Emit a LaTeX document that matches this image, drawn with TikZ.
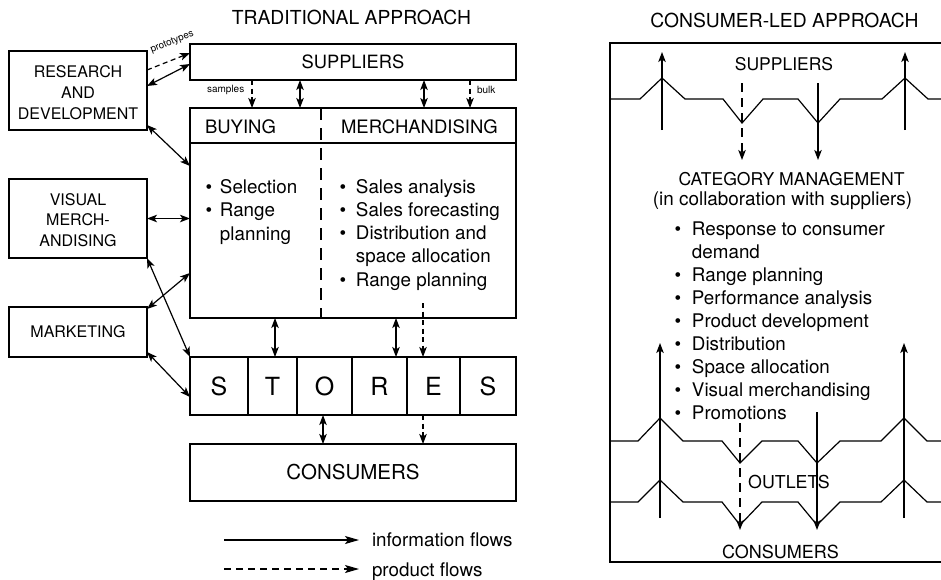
\documentclass[tikz,border=0pt]{standalone}
\usepackage{fontspec}
\setmainfont{TeX Gyre Heros}
\usetikzlibrary{arrows.meta}
\newcommand\myfs[2]{\fontsize{#1}{#2}\selectfont}
\begin{document}
\begin{tikzpicture}[x=1pt,y=-1pt,
  >={Stealth[length=10pt,width=7.5pt,inset=2.5pt]},
  box/.style={draw,line width=1.3pt,inner sep=0pt,outer sep=0pt},
  txt/.style={inner sep=0pt,outer sep=0pt},
  info/.style={line width=1.2pt,<->},
  prod/.style={line width=1.2pt,->,dash pattern=on 5pt off 3.5pt},
  arr/.style={line width=1.2pt,->},
  darr/.style={line width=1.2pt,->,dash pattern=on 9pt off 6pt},
  zig/.style={line width=1.2pt},
  frame/.style={line width=1.3pt},
  divline/.style={line width=1.3pt,dash pattern=on 12pt off 8pt},
  legtip/.style={line width=1.2pt,-{Stealth[length=14pt,width=8pt,inset=3pt]}},
  cell/.style={box,minimum height=58pt,font=\myfs{25}{30}}
]
\fill[white] (0,0) rectangle (941,579);
\useasboundingbox (0,0) rectangle (941,579);

% ---------- titles ----------
\node[txt,font=\myfs{19.3}{23},anchor=base] (ttrad) at (351.5,24) {TRADITIONAL APPROACH};
\node[txt,font=\myfs{19.3}{23},anchor=base] (tcons) at (784.5,27) {CONSUMER-LED APPROACH};

% ---------- traditional approach ----------
\node[box,minimum width=326pt,minimum height=36pt,font=\myfs{18.3}{22}] (sup) at (353,62) {SUPPLIERS};

\node[box,minimum width=138pt,minimum height=79pt] (rd) at (78,90.5) {};
\node[txt,font=\myfs{16}{21},anchor=base] (rdt) at (78,77)
  {\begin{tabular}[t]{@{}c@{}}RESEARCH\\AND\\DEVELOPMENT\end{tabular}};

\node[box,minimum width=138pt,minimum height=79pt] (vm) at (78,218.5) {};
\node[txt,font=\myfs{16}{20.5},anchor=base] (vmt) at (78,205)
  {\begin{tabular}[t]{@{}c@{}}VISUAL\\MERCH-\\ANDISING\end{tabular}};

\node[box,minimum width=138pt,minimum height=50pt,font=\myfs{16}{20}] (mk) at (78,332) {MARKETING};

\node[box,minimum width=326pt,minimum height=210pt] (bm) at (353,213) {};
\draw[frame] ([yshift=-35pt]bm.north west) -- ([yshift=-35pt]bm.north east);
\draw[divline] ([xshift=-32pt]bm.north) -- ([xshift=-32pt]bm.south);
\node[txt,font=\myfs{18.5}{22},anchor=base west] (buyh) at (205,133) {BUYING};
\node[txt,font=\myfs{18.5}{22},anchor=base west] (merh) at (341,133) {MERCHANDISING};
\node[txt,font=\myfs{18.8}{23.5},anchor=base west] (buyl) at (205.7,193)
  {\begin{tabular}[t]{@{}l@{\hspace{7.7pt}}l@{}}\textbullet&Selection\\\textbullet&Range\\&planning\end{tabular}};
\node[txt,font=\myfs{18.8}{23.3},anchor=base west] (merl) at (339.7,193)
  {\begin{tabular}[t]{@{}l@{\hspace{9.7pt}}l@{}}\textbullet&Sales analysis\\\textbullet&Sales forecasting\\\textbullet&Distribution and\\&space allocation\\\textbullet&Range planning\end{tabular}};

\node[cell,minimum width=58pt] (s1) at (219,386) {S};
\node[cell,minimum width=49pt] (s2) at (272.5,386) {T};
\node[cell,minimum width=55pt] (s3) at (324.5,386) {O};
\node[cell,minimum width=55pt] (s4) at (379.5,386) {R};
\node[cell,minimum width=53pt] (s5) at (433.5,386) {E};
\node[cell,minimum width=56pt] (s6) at (488,386) {S};

\node[box,minimum width=326pt,minimum height=57pt,font=\myfs{20.5}{24}] (cons) at (353,472.5) {CONSUMERS};

% connectors
\draw[prod] ([yshift=20.5pt]rd.east) -- ([yshift=9pt]sup.west);
\node[txt,font=\myfs{9.8}{12},rotate=21,anchor=base] (proto) at (173,44) {prototypes};
\draw[info] ([yshift=4.5pt]rd.east) -- ([yshift=-2pt]sup.west);
\draw[info] ([yshift=-34.5pt]rd.east) -- ([yshift=47pt]bm.west);
\draw[info] (vm.east) -- (vm.east -| bm.west);
\draw[info] (vm.south east) -- (s1.north west);
\draw[info] ([yshift=23pt]mk.east) -- ([yshift=-60pt]bm.west);
\draw[info] ([yshift=5pt]mk.south east) -- ([yshift=-11pt]s1.west);

\draw[prod] ([xshift=-101pt]sup.south) -- ([xshift=-101pt]bm.north);
\node[txt,font=\myfs{10}{12},anchor=base west] (samp) at (207,92.7) {samples};
\draw[info] ([xshift=-53pt]sup.south) -- ([xshift=-53pt]bm.north);
\draw[info] ([xshift=71pt]sup.south) -- ([xshift=71pt]bm.north);
\draw[prod] ([xshift=117pt]sup.south) -- ([xshift=117pt]bm.north);
\node[txt,font=\myfs{10}{12},anchor=base west] (bulk) at (477,93.3) {bulk};

\draw[info] ([xshift=-78pt]bm.south) -- ([xshift=2.5pt]s2.north);
\draw[info] ([xshift=43pt]bm.south) -- ([xshift=16.5pt]s4.north);
\draw[prod] ([xshift=70pt,yshift=15pt]bm.south) -- ([xshift=-10.5pt]s5.north);
\draw[info] ([xshift=-1.5pt]s3.south) -- ([xshift=-30pt]cons.north);
\draw[prod] ([xshift=-10.5pt]s5.south) -- ([xshift=70pt]cons.north);

% legend
\coordinate (la) at (224,540); \coordinate (lb) at (359,540);
\draw[legtip] (la) -- (lb);
\node[txt,font=\myfs{18.8}{22},anchor=base west] (linfo) at (372,546.7) {information flows};
\coordinate (lc) at (224,569); \coordinate (ld) at (359,569);
\draw[legtip,dash pattern=on 7pt off 5pt] (lc) -- (ld);
\node[txt,font=\myfs{18.8}{22},anchor=base west] (lprod) at (372,576.7) {product flows};

% ---------- consumer-led approach ----------
\draw[frame] (941,43) -- (610,43) -- (610,562) -- (941,562);

\draw[zig] (610,99) -- (640,99) -- (662,78) -- (685,99) -- (723,99) -- (742,123) -- (763,99)
  -- (798,99) -- (818,123) -- (840,99) -- (882,99) -- (905,78) -- (928,99) -- (941,99);
\draw[zig] (610,441) -- (638,441) -- (660,418) -- (683,441) -- (722,441) -- (740,463) -- (762,441)
  -- (798,441) -- (817,463) -- (840,441) -- (881,441) -- (904,418) -- (927,441) -- (941,441);
\draw[zig] (610,502) -- (638,502) -- (660,480) -- (683,502) -- (722,502) -- (740,525) -- (762,502)
  -- (798,502) -- (817,525) -- (840,502) -- (881,502) -- (904,480) -- (927,502) -- (941,502);

\coordinate (u1a) at (662,130); \coordinate (u1b) at (662,52);
\coordinate (u2a) at (905,130); \coordinate (u2b) at (905,52);
\coordinate (d1a) at (742,83);  \coordinate (d1b) at (742,160);
\coordinate (d2a) at (818,83);  \coordinate (d2b) at (818,160);
\draw[arr] (u1a) -- (u1b);
\draw[arr] (u2a) -- (u2b);
\draw[darr] (d1a) -- (d1b);
\draw[arr] (d2a) -- (d2b);

\coordinate (u3a) at (660,518); \coordinate (u3b) at (660,343);
\coordinate (u4a) at (904,518); \coordinate (u4b) at (904,343);
\coordinate (d3a) at (740,423); \coordinate (d3b) at (740,530);
\coordinate (d4a) at (817,412); \coordinate (d4b) at (817,530);
\draw[arr] (u3a) -- (u3b);
\draw[arr] (u4a) -- (u4b);
\draw[darr] (d3a) -- (d3b);
\draw[arr] (d4a) -- (d4b);

\node[txt,font=\myfs{17.5}{21},anchor=base] (rsup) at (784,70) {SUPPLIERS};
\node[txt,font=\myfs{17.6}{21},anchor=base] (rcat) at (791.5,185) {CATEGORY MANAGEMENT};
\node[txt,font=\myfs{18.9}{22},anchor=base] (rcol) at (782.5,205) {(in collaboration with suppliers)};
\node[txt,font=\myfs{18.8}{23.1},anchor=base west] (rlist) at (674.7,235)
  {\begin{tabular}[t]{@{}l@{\hspace{10.7pt}}l@{}}\textbullet&Response to consumer\\&demand\\\textbullet&Range planning\\\textbullet&Performance analysis\\\textbullet&Product development\\\textbullet&Distribution\\\textbullet&Space allocation\\\textbullet&Visual merchandising\\\textbullet&Promotions\end{tabular}};
\node[txt,font=\myfs{17.8}{21},anchor=base] (rout) at (789,488) {OUTLETS};
\node[txt,font=\myfs{18}{21},anchor=base] (rcon) at (780.5,558) {CONSUMERS};
\end{tikzpicture}
\end{document}
